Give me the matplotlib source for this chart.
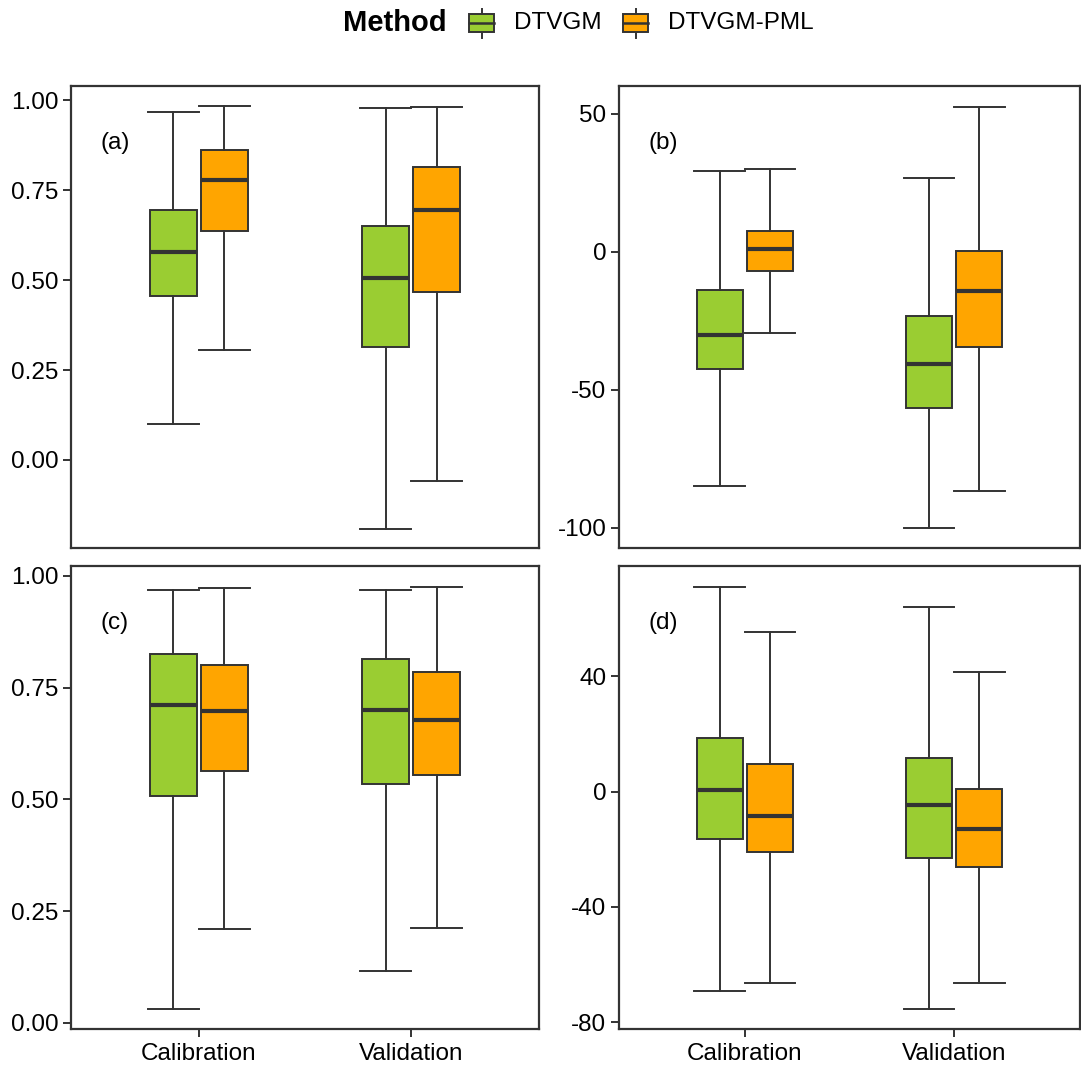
import matplotlib.pyplot as plt
from matplotlib.patches import Rectangle

plt.rcParams['font.family'] = ['Liberation Sans', 'DejaVu Sans']

groups = ["Calibration", "Validation"]
methods = ["DTVGM", "DTVGM-PML"]
colors = ["#9ACD32", "#FFA500"]

# box stats per group: [whislo, q1, median, q3, whishi]
a_dtvgm = [[0.100, 0.456, 0.578, 0.694, 0.969], [-0.192, 0.314, 0.506, 0.650, 0.978]]
a_pml = [[0.306, 0.636, 0.778, 0.861, 0.983], [-0.058, 0.467, 0.694, 0.814, 0.981]]
b_dtvgm = [[-84.7, -42.3, -30.2, -13.7, 29.3], [-99.9, -56.5, -40.6, -23.2, 26.7]]
b_pml = [[-29.3, -7.1, 0.8, 7.6, 29.9], [-86.6, -34.4, -14.1, 0.2, 52.4]]
c_dtvgm = [[0.031, 0.507, 0.711, 0.824, 0.969], [0.115, 0.534, 0.700, 0.813, 0.969]]
c_pml = [[0.209, 0.564, 0.698, 0.801, 0.972], [0.211, 0.554, 0.677, 0.784, 0.975]]
d_dtvgm = [[-69.3, -16.6, 0.6, 18.5, 71.0], [-75.3, -23.1, -4.8, 11.7, 63.9]]
d_pml = [[-66.4, -21.0, -8.3, 9.5, 55.4], [-66.6, -26.1, -13.0, 0.8, 41.5]]

W, H = 1081, 1068
fig = plt.figure(figsize=(W / 100, H / 100), dpi=100)

def frac(l, t, r, b):
    return [l / W, 1 - b / H, (r - l) / W, (b - t) / H]

panels = [
    ("(a)", a_dtvgm, a_pml, frac(71, 86, 539, 548), (-0.245, 1.04), [0, 0.25, 0.5, 0.75, 1.0], "%.2f", False),
    ("(b)", b_dtvgm, b_pml, frac(619, 86, 1080, 548), (-107.3, 60.0), [-100, -50, 0, 50], "%d", False),
    ("(c)", c_dtvgm, c_pml, frac(71, 566, 539, 1029), (-0.014, 1.022), [0, 0.25, 0.5, 0.75, 1.0], "%.2f", True),
    ("(d)", d_dtvgm, d_pml, frac(619, 566, 1080, 1029), (-82.4, 78.3), [-80, -40, 0, 40], "%d", True),
]

edge = "#333333"
fs = 17.5
for label, s1, s2, rect, ylim, yt, fmt, showx in panels:
    ax = fig.add_axes(rect)
    for vals, off, col in [(s1, -0.12, colors[0]), (s2, 0.12, colors[1])]:
        stats = []
        for v in vals:
            stats.append(dict(whislo=v[0], q1=v[1], med=v[2], q3=v[3], whishi=v[4], fliers=[]))
        ax.bxp(stats, positions=[1 + off, 2 + off], widths=0.22, capwidths=0.24,
               patch_artist=True, showfliers=False,
               boxprops=dict(facecolor=col, edgecolor=edge, linewidth=1.4),
               medianprops=dict(color=edge, linewidth=3),
               whiskerprops=dict(color=edge, linewidth=1.4),
               capprops=dict(color=edge, linewidth=1.4))
    ax.set_xlim(0.4, 2.6)
    ax.set_ylim(*ylim)
    ax.set_yticks(yt)
    ax.set_yticklabels([fmt % t for t in yt], fontsize=fs)
    ax.set_xticks([1, 2])
    if showx:
        ax.set_xticklabels(groups, fontsize=fs)
        ax.tick_params(axis='x', length=6, width=1.4, color=edge, pad=4)
    else:
        ax.set_xticklabels([])
        ax.tick_params(axis='x', length=0)
    ax.tick_params(axis='y', length=6, width=1.4, color=edge, pad=3, labelcolor='black')
    for sp in ax.spines.values():
        sp.set_color(edge)
        sp.set_linewidth(1.6)
    ax.text(0.063, 0.877, label, transform=ax.transAxes, fontsize=fs, ha='left', va='center')

# legend on top
lg = fig.add_axes([0, 1 - 50 / H, 1, 50 / H])
lg.set_xlim(0, W)
lg.set_ylim(50, 0)
lg.axis('off')
lg.text(343, 23, "Method", fontsize=21, fontweight='bold', ha='left', va='center')
for x0, col, name in [(469, colors[0], methods[0]), (623, colors[1], methods[1])]:
    cx = x0 + 12.5
    lg.plot([cx, cx], [8.5, 37.5], color=edge, lw=1.4)
    lg.add_patch(Rectangle((x0, 13.5), 25, 18.5, facecolor=col, edgecolor=edge, lw=1.4, zorder=3))
    lg.plot([x0, x0 + 25], [22.7, 22.7], color=edge, lw=1.8, zorder=4)
    lg.text(x0 + 45, 23, name, fontsize=fs, ha='left', va='center')

fig.savefig("out.png", dpi=100)
